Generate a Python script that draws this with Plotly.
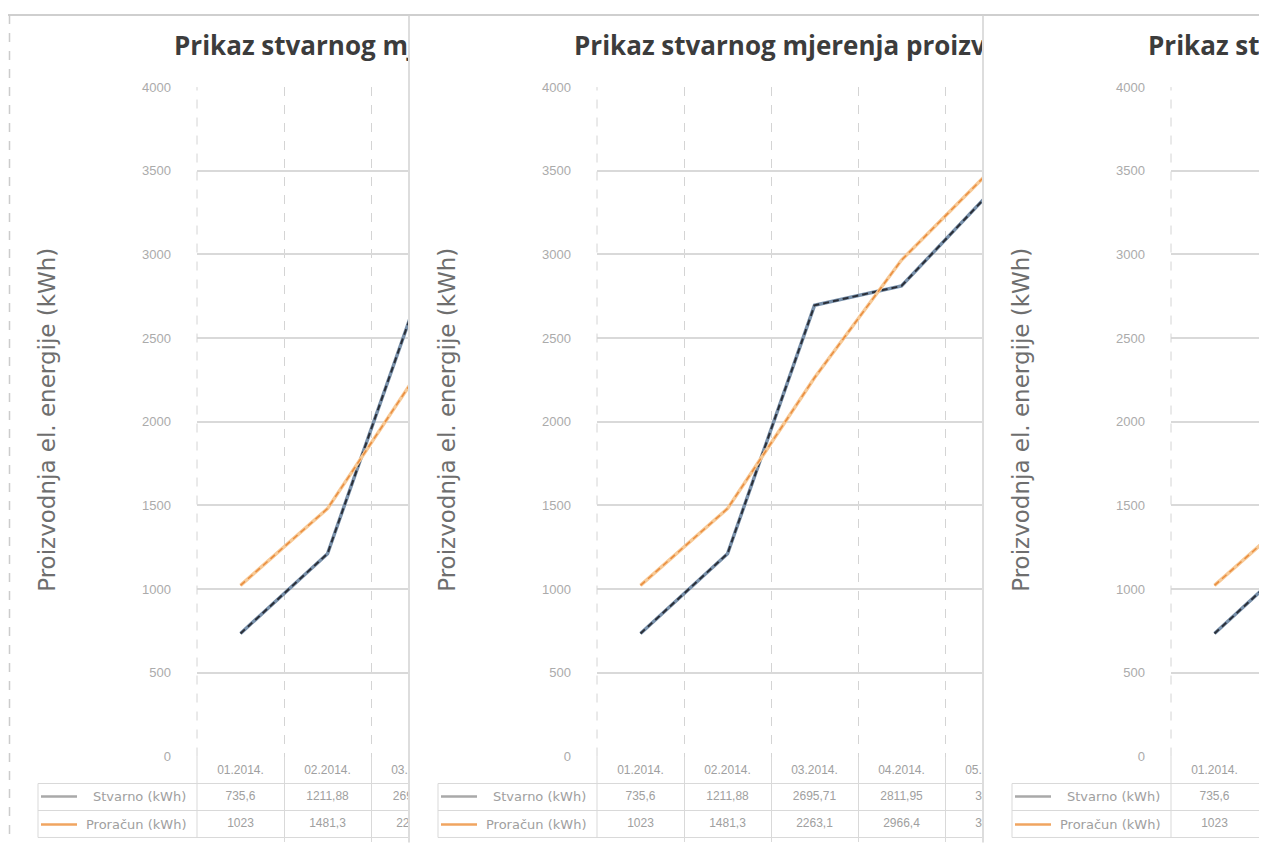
import plotly.graph_objects as go

VW, VH = 1267, 843   # browser window
S = 8                # body margin of the html page
W, H = VW - 2 * S, VH  # figure size

# ---- data ----
months = ["01.2014.", "02.2014.", "03.2014.", "04.2014.", "05.2014."]
stvarno = [735.6, 1211.88, 2695.71, 2811.95, 3360]
proracun = [1023, 1481.3, 2263.1, 2966.4, 3490]
series_names = ["Stvarno (kWh)", "Proračun (kWh)"]
title_text = "Prikaz stvarnog mjerenja proizvodnje el. energije"
y_title = "Proizvodnja el. energije (kWh)"
y_ticks = [0, 500, 1000, 1500, 2000, 2500, 3000, 3500, 4000]

# ---- layout geometry (target window pixels) ----
offsets = [0, 400, 974]          # left shift of each copy of the chart
clips = [408, 982, 1267]         # right edge where each copy is cut
PL, PT, PB = 197, 87, 757        # plot left/top/bottom inside a copy
CW = 87                          # category width in px
TITLE_X = 176
ROW_Y = [771, 797, 825]          # table rows
ROW_LINES = [784, 811, 838]
BOTTOM = 843

GRID = "#d9d9d9"
TXT = "#a0a0a0"


def fmt(v):
    s = ("%.2f" % v).rstrip("0").rstrip(".")
    return s.replace(".", ",")


def fx(x):
    return min(max((x - S) / W, 0), 1)


def fy(y):
    page = (y - 7) / 0.983          # compensate the vertical mapping of the capture
    return min(max(1 - (page - S) / H, 0), 1)


fig = go.Figure()
layout = {}
shapes = []
annotations = []

for p, (o, R) in enumerate(zip(offsets, clips)):
    im, it, ie = 3 * p + 1, 3 * p + 2, 3 * p + 3
    nm = lambda i: "" if i == 1 else str(i)
    Rv = min(R, S + W)                      # visible right edge
    xr = [-0.5, -0.5 + (Rv - PL - o) / CW]

    # main plot axes
    layout["xaxis" + nm(im)] = dict(
        domain=[fx(PL + o), fx(Rv)], type="category", categoryorder="array",
        categoryarray=months, range=xr, tickson="boundaries", showgrid=True,
        griddash="dash", gridcolor="#d4d4d4", gridwidth=1, showticklabels=False,
        ticks="", zeroline=False, showline=False, anchor="y" + nm(im), fixedrange=True)
    layout["yaxis" + nm(im)] = dict(
        domain=[fy(PB), fy(PT)], range=[0, 4000], tickvals=y_ticks,
        showgrid=True, gridcolor=GRID, gridwidth=1.5, zeroline=False,
        tickfont=dict(family="Liberation Sans", size=13, color="#ababab"),
        ticklabelstandoff=25, anchor="x" + nm(im), showline=False, ticks="")

    # table axes
    layout["xaxis" + nm(it)] = dict(
        domain=[fx(PL + o), fx(Rv)], type="category", categoryorder="array",
        categoryarray=months, matches="x" + nm(im), tickson="boundaries",
        showgrid=True, gridcolor=GRID, gridwidth=1, showticklabels=False,
        ticks="", zeroline=False, anchor="y" + nm(it))
    layout["yaxis" + nm(it)] = dict(
        domain=[fy(BOTTOM), fy(PB)], range=[BOTTOM, PB], tickvals=ROW_LINES,
        showgrid=True, gridcolor=GRID, gridwidth=1, showticklabels=False,
        zeroline=False, ticks="", anchor="x" + nm(it))

    # title axes (used to clip the title)
    layout["xaxis" + nm(ie)] = dict(
        domain=[fx(10 + o), fx(Rv)], range=[10 + o, Rv], visible=False,
        anchor="y" + nm(ie))
    layout["yaxis" + nm(ie)] = dict(
        domain=[fy(78), fy(18)], range=[78, 18], visible=False,
        anchor="x" + nm(ie))

    xa, ya = "x" + nm(im), "y" + nm(im)
    # Stvarno: steel-blue line with dark dashes
    fig.add_trace(go.Scatter(x=months, y=stvarno, mode="lines", xaxis=xa, yaxis=ya,
                             line=dict(color="#7890aa", width=3.5), hoverinfo="skip",
                             showlegend=False))
    fig.add_trace(go.Scatter(x=months, y=stvarno, mode="lines", xaxis=xa, yaxis=ya,
                             line=dict(color="#2b2f38", width=2, dash="6px,4px"),
                             name=series_names[0], showlegend=False))
    # Proračun: light orange with darker dashes
    fig.add_trace(go.Scatter(x=months, y=proracun, mode="lines", xaxis=xa, yaxis=ya,
                             line=dict(color="#f7c996", width=3.5), hoverinfo="skip",
                             showlegend=False))
    fig.add_trace(go.Scatter(x=months, y=proracun, mode="lines", xaxis=xa, yaxis=ya,
                             line=dict(color="#ea8d3e", width=1.5, dash="6px,4px"),
                             name=series_names[1], showlegend=False))

    # plot left edge (dashed)
    shapes.append(dict(type="line", xref="paper", yref="paper",
                       x0=fx(PL + o), x1=fx(PL + o), y0=fy(PB), y1=fy(PT),
                       line=dict(color="#d4d4d4", width=1, dash="dash")))

    # table text: only columns that are (at least partly) visible in this copy
    vis = [i for i in range(len(months)) if PL + o + (i + 0.5) * CW - 24 < Rv]
    txa, tya = "x" + nm(it), "y" + nm(it)
    rows = [months, [fmt(v) for v in stvarno], [fmt(v) for v in proracun]]
    for ry, rt in zip(ROW_Y, rows):
        fig.add_trace(go.Scatter(x=[months[i] for i in vis], y=[ry] * len(vis),
                                 text=[rt[i] for i in vis], mode="text",
                                 xaxis=txa, yaxis=tya, textposition="middle center",
                                 textfont=dict(family="Liberation Sans", size=12, color=TXT),
                                 hoverinfo="skip", showlegend=False))

    # title (clipped at the cut of this copy)
    nchar = int((Rv - TITLE_X - o) / 13.5) + 2
    fig.add_trace(go.Scatter(x=[TITLE_X - 2 + o], y=[48], text=[title_text[:nchar]],
                             mode="text", xaxis="x" + nm(ie), yaxis="y" + nm(ie),
                             textposition="middle right",
                             textfont=dict(family="Open Sans", size=26, color="#3c3c3c",
                                           weight="bold"),
                             hoverinfo="skip", showlegend=False))

    # y-axis title
    annotations.append(dict(x=fx(47 + o), y=fy(420), xref="paper", yref="paper",
                            text=y_title, textangle=-90, showarrow=False,
                            font=dict(family="DejaVu Sans", size=23, color="#6e6e6e"),
                            xanchor="center", yanchor="middle"))

    # row label cells of the data table
    for yl in ROW_LINES:
        shapes.append(dict(type="line", xref="paper", yref="paper",
                           x0=fx(38 + o), x1=fx(PL + o), y0=fy(yl), y1=fy(yl),
                           line=dict(color=GRID, width=1)))
    shapes.append(dict(type="line", xref="paper", yref="paper",
                       x0=fx(38 + o), x1=fx(38 + o), y0=fy(ROW_LINES[0]), y1=fy(ROW_LINES[-1]),
                       line=dict(color=GRID, width=1)))
    shapes.append(dict(type="line", xref="paper", yref="paper",
                       x0=fx(PL + o), x1=fx(PL + o), y0=fy(PB), y1=fy(ROW_LINES[-1]),
                       line=dict(color=GRID, width=1)))
    key_colors = ["#a9a9a9", "#f0a560"]
    for name, kc, ry in zip(series_names, key_colors, ROW_Y[1:]):
        shapes.append(dict(type="line", xref="paper", yref="paper",
                           x0=fx(41 + o), x1=fx(77 + o), y0=fy(ry), y1=fy(ry),
                           line=dict(color=kc, width=2.5)))
        annotations.append(dict(x=fx(188 + o), y=fy(ry), xref="paper", yref="paper",
                                text=name, showarrow=False, xanchor="right",
                                yanchor="middle",
                                font=dict(family="DejaVu Sans", size=13, color=TXT)))

# frame lines of the screenshot copies
shapes.append(dict(type="line", xref="paper", yref="paper", x0=fx(8), x1=1,
                   y0=fy(6), y1=fy(6), line=dict(color="#cfcfcf", width=2)))
shapes.append(dict(type="line", xref="paper", yref="paper", x0=fx(9.5), x1=fx(9.5),
                   y0=fy(6), y1=fy(BOTTOM), line=dict(color="#cccccc", width=1.5, dash="dash")))
for xb in clips[:2]:
    shapes.append(dict(type="line", xref="paper", yref="paper", x0=fx(xb + 1), x1=fx(xb + 1),
                       y0=fy(6), y1=fy(BOTTOM), line=dict(color="#d2d2d2", width=1.5)))

fig.update_layout(**layout)
fig.update_layout(width=W, height=H, margin=dict(l=0, r=0, t=0, b=0),
                  paper_bgcolor="white", plot_bgcolor="white", showlegend=False,
                  shapes=shapes, annotations=annotations)

fig.write_html("out.html")
